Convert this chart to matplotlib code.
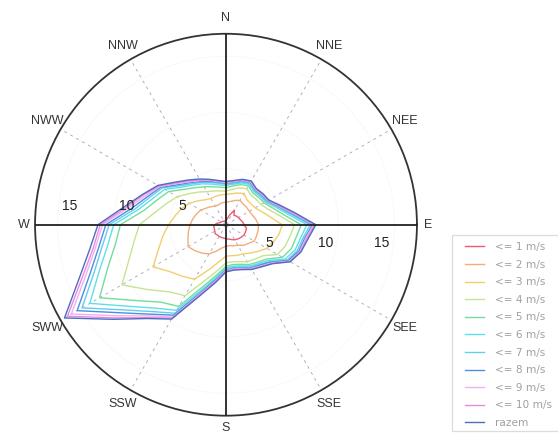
import numpy as np
import matplotlib
matplotlib.use("Agg")
import matplotlib.pyplot as plt
from matplotlib.patches import Rectangle

# directions every 10 deg, counted counter-clockwise from E (math angle)
angles_deg = np.arange(0, 360, 10)

le1 = [1.6, 1.5, 1.35, 1.28, 1.2, 1.1, 1.5, 0.9, 0.5, 0.4, 0.35, 0.33,
       0.35, 0.4, 0.45, 0.5, 0.55, 0.8, 1.0, 1.1, 1.1, 1.15, 1.25, 1.2,
       1.2, 1.2, 1.2, 1.25, 1.3, 1.4, 1.55, 1.65, 1.75, 1.85, 1.85, 1.85]
le2 = [2.9, 2.7, 2.5, 2.4, 2.4, 2.4, 2.5, 2.3, 2.1, 2.0, 2.0, 1.9,
       1.9, 2.1, 2.3, 2.6, 2.8, 3.0, 3.2, 3.4, 3.6, 3.9, 3.6, 3.3,
       3.0, 2.5, 2.1, 1.9, 1.9, 2.0, 2.1, 2.4, 2.6, 2.9, 2.9, 2.9]
le3 = [5.0, 4.0, 3.4, 3.0, 2.9, 2.9, 3.2, 3.0, 2.8, 2.7, 2.7, 2.7,
       2.7, 2.9, 3.3, 3.8, 4.2, 4.6, 5.1, 5.7, 6.4, 7.5, 6.5, 6.0,
       5.6, 4.2, 3.3, 2.8, 2.8, 2.9, 3.0, 3.3, 3.7, 4.2, 4.5, 4.8]
le4 = [6.1, 4.8, 4.0, 3.6, 3.5, 3.45, 3.7, 3.5, 3.2, 3.0, 3.05, 3.2,
       3.4, 3.8, 4.3, 5.0, 5.6, 6.4, 7.7, 8.3, 9.2, 10.7, 9.0, 7.8,
       7.3, 5.2, 4.1, 3.4, 3.35, 3.5, 3.8, 4.0, 4.3, 5.3, 5.6, 5.8]
le5 = [6.7, 5.2, 4.4, 3.9, 3.8, 3.7, 4.0, 3.8, 3.5, 3.3, 3.4, 3.6,
       3.9, 4.3, 4.9, 5.9, 6.5, 7.4, 9.4, 10.0, 11.2, 13.0, 10.5, 9.0,
       8.4, 5.8, 4.5, 3.7, 3.6, 3.75, 4.1, 4.35, 4.75, 5.8, 6.2, 6.35]
le6 = [7.2, 5.55, 4.65, 4.05, 3.95, 3.85, 4.15, 3.95, 3.65, 3.5, 3.6, 3.85,
       4.2, 4.6, 5.2, 6.3, 6.9, 7.9, 10.0, 10.7, 12.0, 14.0, 11.3, 9.7,
       8.8, 6.1, 4.7, 3.85, 3.75, 3.9, 4.25, 4.5, 4.95, 6.1, 6.55, 6.75]
le7 = [7.5, 5.75, 4.8, 4.15, 4.05, 3.95, 4.25, 4.05, 3.75, 3.6, 3.75, 4.0,
       4.35, 4.75, 5.4, 6.55, 7.2, 8.2, 10.4, 11.2, 12.5, 14.8, 11.8, 10.1,
       9.1, 6.3, 4.85, 3.95, 3.85, 4.0, 4.35, 4.6, 5.1, 6.3, 6.75, 6.95]
le8 = [7.7, 5.9, 4.9, 4.25, 4.15, 4.05, 4.35, 4.15, 3.85, 3.7, 3.85, 4.1,
       4.45, 4.9, 5.55, 6.7, 7.4, 8.5, 10.7, 11.5, 12.9, 15.3, 12.2, 10.4,
       9.3, 6.4, 4.95, 4.05, 3.95, 4.1, 4.45, 4.7, 5.2, 6.4, 6.9, 7.1]
le9 = [7.8, 6.0, 4.95, 4.3, 4.2, 4.1, 4.4, 4.2, 3.9, 3.75, 3.9, 4.2,
       4.55, 5.0, 5.7, 6.8, 7.6, 8.8, 11.0, 11.8, 13.3, 15.9, 12.6, 10.6,
       9.5, 6.5, 5.05, 4.1, 4.0, 4.15, 4.5, 4.8, 5.3, 6.5, 7.0, 7.2]
le10 = [7.9, 6.1, 5.0, 4.35, 4.25, 4.15, 4.45, 4.25, 3.95, 3.8, 3.95, 4.25,
        4.6, 5.1, 5.8, 6.9, 7.8, 9.0, 11.2, 12.0, 13.6, 16.3, 12.9, 10.8,
        9.6, 6.6, 5.1, 4.15, 4.05, 4.2, 4.55, 4.85, 5.35, 6.55, 7.05, 7.3]
razem = [8.0, 6.2, 5.1, 4.4, 4.3, 4.2, 4.5, 4.3, 4.0, 3.85, 4.0, 4.3,
         4.7, 5.2, 5.9, 7.0, 7.9, 9.2, 11.4, 12.3, 13.9, 16.6, 13.1, 10.9,
         9.7, 6.7, 5.2, 4.2, 4.1, 4.25, 4.6, 4.9, 5.4, 6.6, 7.1, 7.4]

series = [le1, le2, le3, le4, le5, le6, le7, le8, le9, le10, razem]
labels = ["<= 1 m/s", "<= 2 m/s", "<= 3 m/s", "<= 4 m/s", "<= 5 m/s",
          "<= 6 m/s", "<= 7 m/s", "<= 8 m/s", "<= 9 m/s", "<= 10 m/s", "razem"]
colors = ["#ee5a6e", "#f3ad78", "#f2cf6a", "#c6e48e", "#74dc9a", "#5fe0e6",
          "#62ccf2", "#4a8fe0", "#f2b0ee", "#e68ae0", "#4f6cc0"]

dir_names = ["E", "NEE", "NNE", "N", "NNW", "NWW",
             "W", "SWW", "SSW", "S", "SSE", "SEE"]
dir_angles = np.arange(0, 360, 30)
rticks = [5, 10, 15]
rmax = 17

fig = plt.figure(figsize=(5.58, 4.33), dpi=100)
ax = fig.add_axes([0.0627, 0.040, 0.6846, 0.882], projection="polar")
ax.set_ylim(0, rmax)
ax.grid(False)
ax.set_xticks([])
ax.set_yticks([])
ax.spines["polar"].set_color("#333333")
ax.spines["polar"].set_linewidth(1.3)

# faint rings and dashed spokes
tt = np.linspace(0, 2 * np.pi, 361)
for r in rticks:
    ax.plot(tt, np.full_like(tt, r), color="#ececf2", lw=0.6, ls=":", zorder=1)
for a in dir_angles:
    th = np.deg2rad(a)
    if a % 90 == 0:
        ax.plot([th, th], [0, rmax], color="#222222", lw=1.3, zorder=5)
    else:
        ax.plot([th, th], [0, rmax], color="#aab2ca", lw=0.7, ls=(0, (3, 4)), zorder=1)

theta = np.deg2rad(np.append(angles_deg, angles_deg[0]))
for vals, lab, col in zip(series, labels, colors):
    v = np.append(vals, vals[0])
    ax.plot(theta, v, color=col, lw=1.0, label=lab, zorder=3)

# direction names
for name, a in zip(dir_names, dir_angles):
    r = 18.4
    if name in ("E", "W"):
        r = 18.0
    if name == "S":
        r = 18.1
    ax.text(np.deg2rad(a), r, name, ha="center", va="center", fontsize=9,
            color="#333333", family="Liberation Sans", clip_on=False)

# radial labels, left above and right below the W-E axis
for v in rticks:
    for sx, sy in ((-1, 1.65), (1, -1.6)):
        x = sx * (v - 1.12)
        ax.text(np.arctan2(sy, x), np.hypot(x, sy), str(v), ha="center", va="center",
                fontsize=10, color="#222222", family="Liberation Sans", zorder=6)

# legend box runs off the right edge
fig.patches.append(Rectangle((452 / 558, 1 - 431 / 433), 0.3, (431 - 235) / 433,
                             transform=fig.transFigure, facecolor="white",
                             edgecolor="#dcdcdc", lw=0.9, zorder=0))
leg = fig.legend(loc="upper left", bbox_to_anchor=(455 / 558, 1 - 232 / 433),
                 fontsize=7.6, labelcolor="#a0a0a0", handlelength=1.8,
                 handletextpad=1.0, labelspacing=0.72, borderpad=0.45,
                 frameon=False)

fig.savefig("out.png", dpi=100)
